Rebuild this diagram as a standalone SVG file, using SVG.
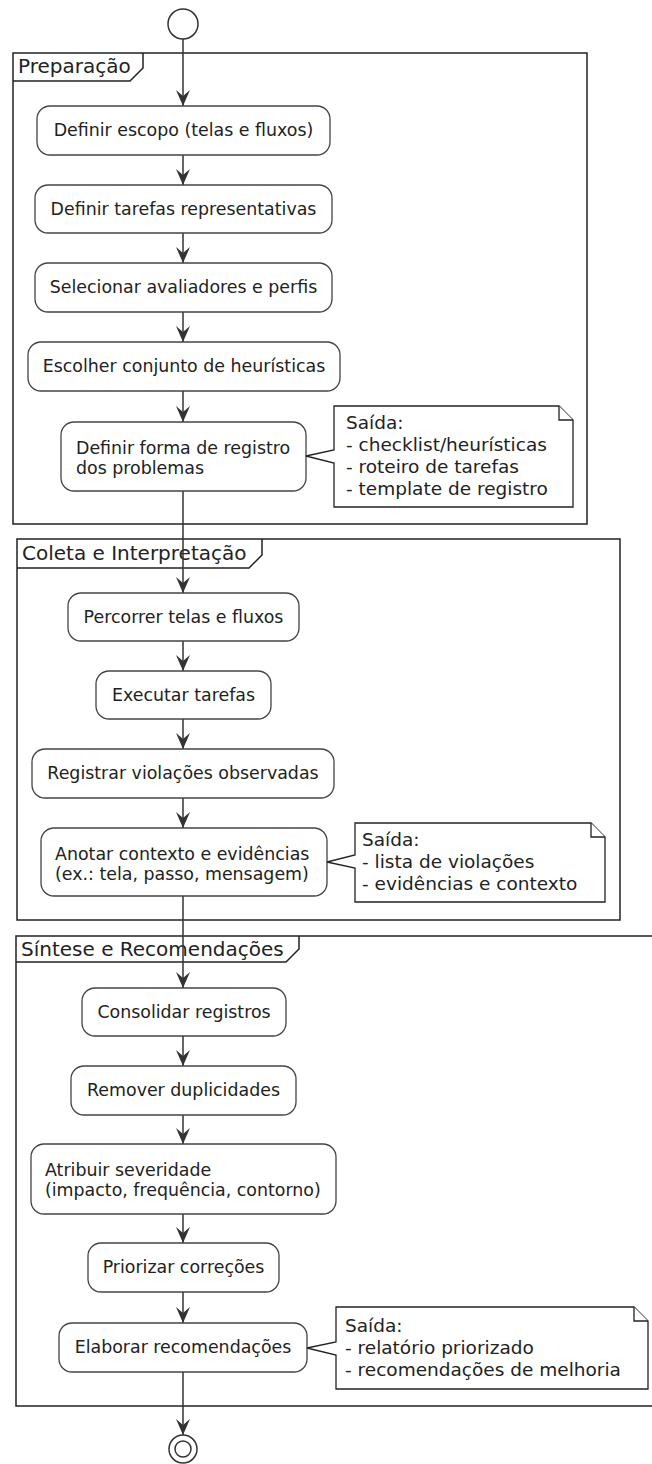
<svg xmlns="http://www.w3.org/2000/svg" width="652" height="1464" viewBox="0 0 652 1464">
  <style>
    text { font-family: "DejaVu Sans", "Noto Sans", sans-serif; fill: #222222; }
    .act { fill: #ffffff; stroke: #444444; stroke-width: 1.3; }
    .act-t { font-size: 17.4px; }
    .frame { fill: none; stroke: #222222; stroke-width: 1.5; }
    .frame-t { font-size: 20px; }
    .note { fill: #ffffff; stroke: #222222; stroke-width: 1.3; }
    .note-t { font-size: 18.5px; }
    .edge { fill: none; stroke: #333333; stroke-width: 1.5; marker-end: url(#arrow); }
    .mid { text-anchor: middle; }
  </style>
  <defs>
    <marker id="arrow" markerUnits="userSpaceOnUse" markerWidth="18" markerHeight="16" refX="16" refY="7" orient="auto">
      <path d="M0,0 L16,7 L0,14 L6,7 Z" fill="#333333"/>
    </marker>
  </defs>

  <rect width="652" height="1464" fill="#ffffff"/>

  <!-- partitions -->
  <g id="part-preparacao">
    <rect class="frame" x="13" y="53" width="574" height="471"/>
    <path class="frame" d="M13,81 L130,81 L143,68 L143,53"/>
    <text class="frame-t" x="18" y="73">Preparação</text>
  </g>
  <g id="part-coleta">
    <rect class="frame" x="17" y="539" width="603" height="381"/>
    <path class="frame" d="M17,568 L249,568 L262,555 L262,539"/>
    <text class="frame-t" x="22" y="560">Coleta e Interpretação</text>
  </g>
  <g id="part-sintese">
    <path class="frame" d="M660,936 L16,936 L16,1406 L660,1406"/>
    <path class="frame" d="M16,962 L286,962 L299,949 L299,936"/>
    <text class="frame-t" x="21" y="956">Síntese e Recomendações</text>
  </g>

  <!-- connectors -->
  <g id="connectors">
    <line class="edge" x1="183" y1="39" x2="183" y2="106"/>
    <line class="edge" x1="183" y1="155" x2="183" y2="185"/>
    <line class="edge" x1="183" y1="233" x2="183" y2="263"/>
    <line class="edge" x1="183" y1="312" x2="183" y2="342"/>
    <line class="edge" x1="183" y1="391" x2="183" y2="422"/>
    <line class="edge" x1="183" y1="491" x2="183" y2="593"/>
    <line class="edge" x1="183" y1="641" x2="183" y2="671"/>
    <line class="edge" x1="183" y1="719" x2="183" y2="749"/>
    <line class="edge" x1="183" y1="798" x2="183" y2="828"/>
    <line class="edge" x1="183" y1="896" x2="183" y2="988"/>
    <line class="edge" x1="183" y1="1036" x2="183" y2="1066"/>
    <line class="edge" x1="183" y1="1115" x2="183" y2="1144"/>
    <line class="edge" x1="183" y1="1214" x2="183" y2="1243"/>
    <line class="edge" x1="183" y1="1292" x2="183" y2="1323"/>
    <line class="edge" x1="183" y1="1372" x2="183" y2="1435"/>
  </g>

  <!-- start / end -->
  <g id="start">
    <circle cx="183" cy="24" r="15" fill="#ffffff" stroke="#333333" stroke-width="1.5"/>
  </g>
  <g id="end">
    <circle cx="183" cy="1449" r="14" fill="#ffffff" stroke="#333333" stroke-width="1.5"/>
    <circle cx="183" cy="1449" r="8" fill="#ffffff" stroke="#333333" stroke-width="1.5"/>
  </g>

  <!-- Preparação -->
  <g id="n-escopo">
    <rect class="act" x="37" y="106" width="293" height="49" rx="13"/>
    <text class="act-t mid" x="183.5" y="136">Definir escopo (telas e fluxos)</text>
  </g>
  <g id="n-tarefas">
    <rect class="act" x="35" y="185" width="297" height="48" rx="13"/>
    <text class="act-t mid" x="183.5" y="215">Definir tarefas representativas</text>
  </g>
  <g id="n-avaliadores">
    <rect class="act" x="35" y="263" width="297" height="49" rx="13"/>
    <text class="act-t mid" x="183.5" y="293">Selecionar avaliadores e perfis</text>
  </g>
  <g id="n-heuristicas">
    <rect class="act" x="28" y="342" width="312" height="49" rx="13"/>
    <text class="act-t mid" x="184" y="372">Escolher conjunto de heurísticas</text>
  </g>
  <g id="n-registro">
    <rect class="act" x="61" y="422" width="245" height="69" rx="13"/>
    <text class="act-t" x="76" y="454">Definir forma de registro</text>
    <text class="act-t" x="76" y="474">dos problemas</text>
  </g>
  <g id="note-preparacao">
    <path class="note" d="M334,406 L559,406 L573,420 L573,507 L334,507 L334,463 L306,456 L334,450 Z"/>
    <path class="note" d="M559,406 L559,420 L573,420"/>
    <text class="note-t" x="346" y="429">Saída:</text>
    <text class="note-t" x="346" y="451">- checklist/heurísticas</text>
    <text class="note-t" x="346" y="473">- roteiro de tarefas</text>
    <text class="note-t" x="346" y="495">- template de registro</text>
  </g>

  <!-- Coleta e Interpretação -->
  <g id="n-percorrer">
    <rect class="act" x="68" y="593" width="231" height="48" rx="13"/>
    <text class="act-t mid" x="183.5" y="623">Percorrer telas e fluxos</text>
  </g>
  <g id="n-executar">
    <rect class="act" x="96" y="671" width="175" height="48" rx="13"/>
    <text class="act-t mid" x="183.5" y="701">Executar tarefas</text>
  </g>
  <g id="n-violacoes">
    <rect class="act" x="32" y="749" width="302" height="49" rx="13"/>
    <text class="act-t mid" x="183" y="779">Registrar violações observadas</text>
  </g>
  <g id="n-anotar">
    <rect class="act" x="41" y="828" width="286" height="68" rx="13"/>
    <text class="act-t" x="55" y="860">Anotar contexto e evidências</text>
    <text class="act-t" x="55" y="880">(ex.: tela, passo, mensagem)</text>
  </g>
  <g id="note-coleta">
    <path class="note" d="M355,823 L591,823 L605,837 L605,902 L355,902 L355,868 L327,862 L355,855 Z"/>
    <path class="note" d="M591,823 L591,837 L605,837"/>
    <text class="note-t" x="362" y="846">Saída:</text>
    <text class="note-t" x="362" y="868">- lista de violações</text>
    <text class="note-t" x="362" y="890">- evidências e contexto</text>
  </g>

  <!-- Síntese e Recomendações -->
  <g id="n-consolidar">
    <rect class="act" x="82" y="988" width="204" height="48" rx="13"/>
    <text class="act-t mid" x="184" y="1018">Consolidar registros</text>
  </g>
  <g id="n-duplicidades">
    <rect class="act" x="71" y="1066" width="225" height="49" rx="13"/>
    <text class="act-t mid" x="183.5" y="1096">Remover duplicidades</text>
  </g>
  <g id="n-severidade">
    <rect class="act" x="31" y="1144" width="305" height="70" rx="13"/>
    <text class="act-t" x="45" y="1176">Atribuir severidade</text>
    <text class="act-t" x="45" y="1196">(impacto, frequência, contorno)</text>
  </g>
  <g id="n-priorizar">
    <rect class="act" x="88" y="1243" width="191" height="49" rx="13"/>
    <text class="act-t mid" x="183.5" y="1273">Priorizar correções</text>
  </g>
  <g id="n-elaborar">
    <rect class="act" x="59" y="1323" width="248" height="49" rx="13"/>
    <text class="act-t mid" x="183" y="1353">Elaborar recomendações</text>
  </g>
  <g id="note-sintese">
    <path class="note" d="M336,1307 L634,1307 L648,1321 L648,1389 L336,1389 L336,1355 L307,1348 L336,1342 Z"/>
    <path class="note" d="M634,1307 L634,1321 L648,1321"/>
    <text class="note-t" x="345" y="1332">Saída:</text>
    <text class="note-t" x="345" y="1354">- relatório priorizado</text>
    <text class="note-t" x="345" y="1376">- recomendações de melhoria</text>
  </g>
</svg>
